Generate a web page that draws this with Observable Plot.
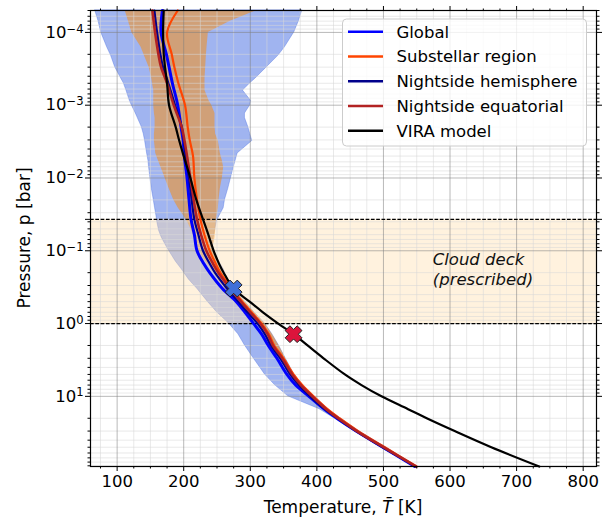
<!DOCTYPE html>
<html><head><meta charset="utf-8">
<script src="https://cdn.jsdelivr.net/npm/d3@7"></script>
<script src="https://cdn.jsdelivr.net/npm/@observablehq/plot@0.6"></script>
<style>body{margin:0;background:#fff}</style>
</head><body><div id="chart"></div>
<script>
// ---- data ----
const pLine = [5e-5, 1e-4, 2e-4, 3e-4, 5e-4, 1e-3, 2e-3, 3e-3, 5e-3, 1e-2, 2e-2, 0.037, 0.06, 0.1, 0.15, 0.2, 0.33, 0.5, 0.7, 1.0, 1.4, 2, 3, 5, 7, 10, 15, 20, 30, 50, 92];
const tGlobal     = [168, 166, 174, 178, 183, 191, 196, 199, 201, 205, 208, 211, 216, 220, 230, 239, 258, 279, 292, 305, 317, 327, 340, 355, 368, 388, 411, 430, 459, 499, 547];
const tSubstellar = [191, 175, 182, 186, 192, 202, 206, 209, 214, 216, 220, 225, 231, 239, 248, 255, 272, 288, 302, 317, 328, 336, 350, 365, 378, 395, 416, 434, 462, 502, 550];
const tNightHemi  = [156, 160, 165, 169, 177, 187, 197, 200, 203, 208, 212, 216, 222, 229, 239, 247, 265, 282, 296, 311, 322, 331, 345, 360, 373, 390, 412, 431, 459, 499, 548];
const tNightEq    = [153, 157, 162, 166, 175, 185, 197, 201, 205, 210, 215, 220, 226, 234, 244, 252, 270, 286, 300, 315, 326, 334, 348, 363, 376, 393, 414, 432, 460, 500, 549];
const tVira       = [170, 169, 170, 172, 175, 178, 188, 193, 200, 210, 219, 229, 237, 245, 253, 260, 275, 299, 319, 342, 365, 386, 410, 442, 467, 497, 537, 565, 607, 662, 734];

const pEnv = [5e-5, 7e-5, 1e-4, 1.6e-4, 2.1e-4, 3e-4, 4.3e-4, 5e-4, 6.3e-4, 8.7e-4, 1e-3, 1.3e-3, 1.5e-3, 2e-3, 2.5e-3, 3.1e-3, 4.6e-3, 5.8e-3, 7.2e-3, 1e-2, 1.4e-2, 2e-2, 2.6e-2, 3.3e-2, 3.9e-2, 5.3e-2, 6.6e-2, 9e-2, 0.1, 0.14, 0.18, 0.25, 0.33, 0.5, 0.7, 1.0, 1.4, 2, 3, 5, 7, 10, 15, 20, 30, 50, 92];
const globalMin = [67, 72, 76, 85, 91, 97, 106, 110, 114, 119, 122, 128, 131, 137, 140, 142, 145, 147, 148, 150, 152, 155, 157, 159, 160, 163, 167, 175, 178, 188, 197, 208, 220, 236, 250, 268, 282, 292, 305, 322, 337, 357, 404, 426, 456, 496, 545];
const globalMax = [378, 373, 366, 352, 342, 325, 308, 300, 289, 301, 300, 292, 292, 297, 300, 303, 281, 278, 275, 271, 267, 262, 260, 254, 250, 247, 245, 244, 244, 253, 260, 266, 274, 292, 306, 322, 333, 343, 353, 366, 379, 396, 417, 435, 463, 503, 551];
const subMin = [112, 117, 122, 136, 141, 148, 152, 153, 155, 155, 155, 156, 157, 157, 156, 156, 158, 162, 166, 172, 178, 185, 192, 200, 205, 212, 216, 220, 222, 233, 242, 252, 262, 280, 295, 312, 323, 332, 345, 358, 372, 390, 411, 430, 459, 499, 548];
const subMax = [310, 270, 237, 235, 234, 233, 232, 232, 232, 238, 242, 247, 247, 247, 248, 252, 255, 258, 260, 258, 255, 253, 252, 250, 249, 248, 247, 244, 245, 252, 258, 266, 274, 292, 306, 322, 333, 343, 353, 366, 379, 396, 417, 435, 463, 503, 551];

const markerT = [275, 365];
const markerP = [0.33, 1.4];
const markerColor = ["#3f6fd8", "#dc143c"];

const cloudBounds = [0.037, 1.0];
const cloudLabel = ["Cloud deck\n(prescribed)"];
const cloudLabelT = [574];
const cloudLabelP = [0.177];

const seriesNames = ["Global", "Substellar region", "Nightside hemisphere", "Nightside equatorial", "VIRA model"];
const seriesColors = ["#0000ff", "#ff4500", "#00008b", "#b22222", "#000000"];
const seriesWidths = [3, 2.2, 2.2, 2.6, 2.2];
const seriesTemps = [tGlobal, tSubstellar, tNightHemi, tNightEq, tVira];

const xMajor = [100, 200, 300, 400, 500, 600, 700, 800];
const yTickVals = [1e-4, 1e-3, 1e-2, 0.037, 0.1, 1, 10];
const yTickBase = ["10", "10", "10", "0.037", "10", "10", "10"];
const yTickExp = ["\u22124", "\u22123", "\u22122", "", "\u22121", "0", "1"];

// ---- derived tables ----
const xMinor = d3.range(75, 820, 25).filter(v => v % 100 !== 0);
const yMajor = [1e-4, 1e-3, 1e-2, 1e-1, 1, 10];
const yMinor = [];
for (let k = -5; k <= 1; k++) for (let m = 2; m <= 9; m++) {
  const v = m * Math.pow(10, k);
  if (v >= 5e-5 && v <= 92) yMinor.push(v);
}
const labelMap = new Map(yTickVals.map((v, i) => [v, yTickBase[i] + yTickExp[i]]));
const supMap = new Map(yTickVals.map((v, i) => [yTickBase[i] + yTickExp[i], [yTickBase[i], yTickExp[i]]]));
const envRows = pEnv.map((p, i) => ({p, gLo: globalMin[i], gHi: globalMax[i], sLo: subMin[i], sHi: subMax[i]}));
const lineRows = seriesTemps.map((arr, s) => pLine.map((p, i) => ({p, T: arr[i], s})));
const markerRows = markerT.map((T, i) => ({T, p: markerP[i], c: markerColor[i]}));

const Xsym = {
  draw(ctx, size) {
    const r = Math.sqrt(size / Math.PI), t = r * 0.4;
    const pts = [[-t,-r],[t,-r],[t,-t],[r,-t],[r,t],[t,t],[t,r],[-t,r],[-t,t],[-r,t],[-r,-t],[-t,-t]];
    const c = Math.SQRT1_2;
    pts.forEach(([x, y], i) => {
      const X = (x - y) * c, Y = (x + y) * c;
      if (i === 0) ctx.moveTo(X, Y); else ctx.lineTo(X, Y);
    });
    ctx.closePath();
  }
};

const noText = () => "";
const chart = Plot.plot({
  width: 608, height: 520,
  marginLeft: 90, marginRight: 12, marginTop: 10, marginBottom: 54,
  style: {fontFamily: "DejaVu Sans", fontSize: "16.5px", background: "white", color: "black"},
  x: {domain: [60, 820]},
  y: {type: "log", domain: [5e-5, 92], reverse: true},
  marks: [
    Plot.areaX(envRows, {y: "p", x1: "gLo", x2: "gHi", fill: "royalblue", fillOpacity: 0.5, stroke: "royalblue", strokeOpacity: 0.45, strokeWidth: 0.8}),
    Plot.areaX(envRows, {y: "p", x1: "sLo", x2: "sHi", fill: "darkorange", fillOpacity: 0.5}),
    Plot.rectY(cloudBounds.slice(0, 1), {y1: cloudBounds[0], y2: cloudBounds[1], fill: "navajowhite", fillOpacity: 0.4}),
    Plot.gridX(xMinor, {stroke: "#d8d8d8", strokeOpacity: 0.7, strokeWidth: 0.8}),
    Plot.gridY(yMinor, {stroke: "#d8d8d8", strokeOpacity: 0.7, strokeWidth: 0.8}),
    Plot.gridX(xMajor, {stroke: "#808080", strokeOpacity: 0.55, strokeWidth: 1}),
    Plot.gridY(yMajor, {stroke: "#808080", strokeOpacity: 0.55, strokeWidth: 1}),
    Plot.ruleY(cloudBounds, {stroke: "black", strokeWidth: 1.2, strokeDasharray: "3.7,1.6"}),
    ...lineRows.map((rows, s) => Plot.lineX(rows, {x: "T", y: "p", stroke: seriesColors[s], strokeWidth: seriesWidths[s], curve: "catmull-rom"})),
    Plot.dot(markerRows, {x: "T", y: "p", fill: "c", stroke: "#222", strokeWidth: 1, r: 8.5, symbol: Xsym}),
    Plot.text(cloudLabel, {x: () => cloudLabelT[0], y: () => cloudLabelP[0], text: d => d, textAnchor: "start", lineAnchor: "middle", lineHeight: 1.2, fontStyle: "italic", fontSize: 16.5, fill: "#111"}),
    Plot.frame({stroke: "black", strokeWidth: 1.2}),
    Plot.axisX(xMajor, {anchor: "bottom", tickSize: 5, tickPadding: 4, label: null}),
    Plot.axisX(xMinor, {anchor: "bottom", tickSize: 2.5, tickFormat: noText, label: null}),
    Plot.axisX(xMajor, {anchor: "top", tickSize: 5, tickFormat: noText, label: null}),
    Plot.axisX(xMinor, {anchor: "top", tickSize: 2.5, tickFormat: noText, label: null}),
    Plot.axisY(yTickVals, {anchor: "left", tickSize: 5, tickPadding: 2, tickFormat: d => labelMap.get(d), label: null}),
    Plot.axisY(yMinor, {anchor: "left", tickSize: 2.5, tickFormat: noText, label: null}),
    Plot.axisY(yTickVals, {anchor: "right", tickSize: 5, tickFormat: noText, label: null}),
    Plot.axisY(yMinor, {anchor: "right", tickSize: 2.5, tickFormat: noText, label: null})
  ]
});
document.getElementById("chart").appendChild(chart);

const svg = d3.select(chart);
// superscript exponents on the pressure tick labels (y axis only)
svg.selectAll("text").filter(function () {
  const g = this.closest("g");
  return g && (g.getAttribute("aria-label") || "").startsWith("y-axis");
}).each(function () {
  const parts = supMap.get(this.textContent);
  if (!parts || !parts[1]) return;
  const t = d3.select(this);
  t.text(null);
  t.append("tspan").text(parts[0]);
  t.append("tspan").attr("font-size", "0.7em").attr("dy", "-0.45em").text(parts[1]);
});

// ---- axis titles and legend ----
const xl = svg.append("text").attr("x", 343).attr("y", 513).attr("text-anchor", "middle")
  .attr("font-size", 17).attr("fill", "black");
xl.append("tspan").text("Temperature, ");
xl.append("tspan").attr("font-style", "italic").text("T\u0304");
xl.append("tspan").text(" [K]");
const yl = svg.append("text").attr("transform", "translate(30,238) rotate(-90)").attr("text-anchor", "middle")
  .attr("font-size", 17).attr("fill", "black");
yl.append("tspan").text("Pressure, ");
yl.append("tspan").text("p");
yl.append("tspan").text(" [bar]");

const lg = svg.append("g");
lg.append("rect").attr("x", 342.5).attr("y", 19).attr("width", 244).attr("height", 127).attr("rx", 4)
  .attr("fill", "white").attr("fill-opacity", 0.8).attr("stroke", "#cccccc");
seriesNames.forEach((name, i) => {
  const y = 31.7 + i * 24.75;
  lg.append("line").attr("x1", 348).attr("x2", 383).attr("y1", y).attr("y2", y)
    .attr("stroke", seriesColors[i]).attr("stroke-width", 2.6);
  lg.append("text").attr("x", 396.5).attr("y", y).attr("dy", "0.36em").attr("font-size", 16.5)
    .attr("text-anchor", "start").attr("fill", "black").text(name);
});
</script>
</body></html>
